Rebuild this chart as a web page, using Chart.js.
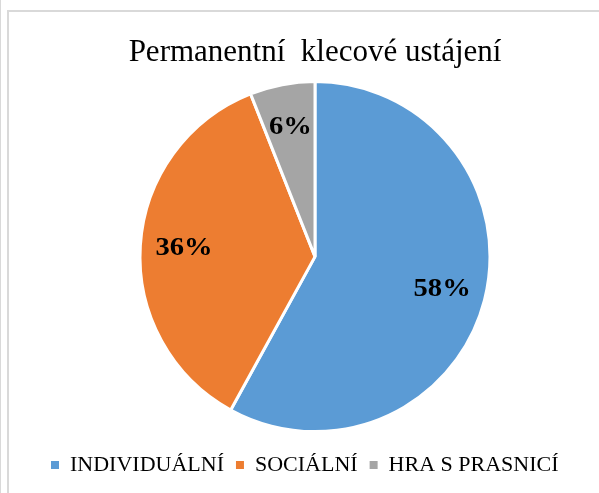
<!DOCTYPE html>
<html>
<head>
<meta charset="utf-8">
<script src="https://cdn.jsdelivr.net/npm/chart.js@4"></script>
<style>
    body { margin: 0; background: #fff; }
    #wrap { position: relative; width: 599px; height: 493px; overflow: hidden; }
    #edge { position: absolute; left: 0; top: 0; width: 1px; height: 493px; background: #d9d9d9; }
    #frame { position: absolute; left: 7px; top: 10px; width: 700px; height: 600px; border-left: 2px solid #d9d9d9; border-top: 2px solid #d9d9d9; }
    canvas { position: absolute; left: 0; top: 0; }
</style>
</head>
<body>
<div id="wrap">
    <div id="edge"></div>
    <div id="frame"></div>
    <canvas id="myChart" width="599" height="493"></canvas>
</div>
<script>
const title = "Permanentní  klecové ustájení";
const labels = ["INDIVIDUÁLNÍ", "SOCIÁLNÍ", "HRA S PRASNICÍ"];
const amounts = [58, 36, 6];
const colors = ["#5B9BD5", "#ED7D31", "#A5A5A5"];

const pctLabels = {
    id: "pctLabels",
    afterDatasetsDraw(chart) {
        const ctx = chart.ctx;
        const arcs = chart.getDatasetMeta(0).data;
        const total = amounts.reduce((a, b) => a + b, 0);
        ctx.save();
        ctx.fillStyle = "#000";
        ctx.font = "bold 26px 'Liberation Serif'";
        ctx.textAlign = "center";
        ctx.textBaseline = "middle";
        arcs.forEach((arc, i) => {
            const mid = (arc.startAngle + arc.endAngle) / 2;
            const r = arc.outerRadius * 0.75;
            const x = arc.x + Math.cos(mid) * r;
            const y = arc.y + Math.sin(mid) * r;
            ctx.save();
            ctx.translate(x, y);
            ctx.scale(1.1, 1);
            ctx.fillText(Math.round(amounts[i] / total * 100) + "%", 0, 0);
            ctx.restore();
        });
        ctx.restore();
    }
};

window.onload = () => {
    const data = {
        labels: labels,
        datasets: [{
            data: amounts,
            backgroundColor: colors,
            borderColor: "#fff",
            borderWidth: 3
        }]
    };

    const config = {
        type: "pie",
        data: data,
        options: {
            responsive: false,
            animation: false,
            radius: 175,
            layout: {
                padding: { top: 22, bottom: 7, left: 39, right: 8 }
            },
            plugins: {
                title: {
                    display: true,
                    text: title,
                    color: "#000",
                    font: { family: "'Liberation Serif'", size: 31, weight: "normal" },
                    padding: { top: 12, bottom: 0 }
                },
                legend: {
                    position: "bottom",
                    align: "start",
                    labels: {
                        color: "#000",
                        font: { family: "'Liberation Serif'", size: 22 },
                        usePointStyle: true,
                        pointStyle: "rect",
                        boxWidth: 8,
                        boxHeight: 8,
                        padding: 12,
                        generateLabels(chart) {
                            const items = Chart.overrides.pie.plugins.legend.labels.generateLabels(chart);
                            return items.map(it => Object.assign(it, { lineWidth: 0, strokeStyle: "transparent" }));
                        }
                    }
                },
                tooltip: { enabled: false }
            }
        },
        plugins: [pctLabels]
    };

    const ctx = document.getElementById("myChart").getContext("2d");
    new Chart(ctx, config);
};
</script>
</body>
</html>
